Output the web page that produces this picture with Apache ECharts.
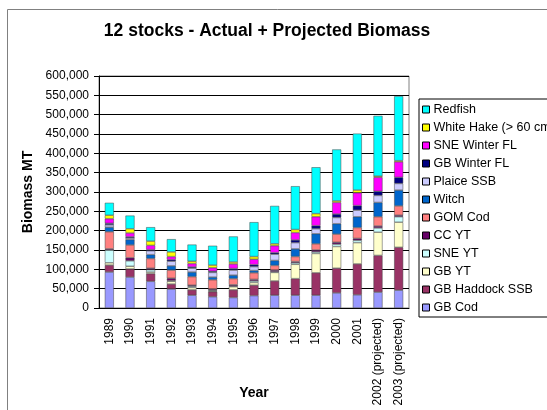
<!DOCTYPE html>
<html>
<head>
<meta charset="utf-8">
<script src="https://cdn.jsdelivr.net/npm/echarts@6/dist/echarts.min.js"></script>
<style>
  html, body { margin: 0; padding: 0; background: #fff; }
  #chart { width: 547px; height: 410px; }
</style>
</head>
<body>
<div id="chart"></div>
<script>
// biomass, thousands of metric tons
const years = ['1989', '1990', '1991', '1992', '1993', '1994', '1995', '1996', '1997', '1998', '1999', '2000', '2001', '2002 (projected)', '2003 (projected)']

const gbCod       = [93, 80, 69, 49, 33, 29, 27, 32, 33, 33, 33, 39, 34, 41, 46]
const gbHaddock   = [18, 21, 20, 13, 14, 13, 20, 27, 37, 43, 58, 64, 80, 95, 111]
const gbYT        = [6, 7, 4, 7, 6, 2, 8, 7, 22, 37, 50, 56, 55, 60, 65]
const sneYT       = [33, 14, 6, 2, 3, 2, 2, 4, 2, 4, 4, 6, 6, 11, 14]
const ccYT        = [3, 8, 4, 6, 3, 3, 3, 4, 4, 3, 5, 5, 5, 5, 4]
const gomCod      = [44, 33, 25, 21, 22, 24, 16, 17, 12, 13, 16, 21, 28, 24, 24]
const witch       = [12, 14, 10, 11, 12, 7, 9, 6, 13, 20, 26, 27, 28, 37, 41]
const plaice      = [6, 4, 10, 12, 10, 12, 13, 10, 16, 16, 13, 16, 17, 18, 17]
const gbWinter    = [4, 3, 3, 4, 3, 3, 4, 5, 4, 7, 8, 9, 12, 11, 16]
const sneWinter   = [12, 10, 11, 8, 9, 9, 12, 14, 18, 19, 23, 30, 33, 36, 40]
const whiteHake   = [9, 11, 11, 12, 6, 7, 5, 7, 5, 8, 8, 4, 7, 3, 3]
const redfish     = [32, 34, 36, 33, 43, 50, 66, 89, 98, 112, 120, 133, 146, 156, 167]

const stocks = [
  ['GB Cod', gbCod, '#9999FF'],
  ['GB Haddock SSB', gbHaddock, '#993366'],
  ['GB YT', gbYT, '#FFFFCC'],
  ['SNE YT', sneYT, '#CCFFFF'],
  ['CC YT', ccYT, '#660066'],
  ['GOM Cod', gomCod, '#FF8080'],
  ['Witch', witch, '#0066CC'],
  ['Plaice SSB', plaice, '#CCCCFF'],
  ['GB Winter FL', gbWinter, '#000080'],
  ['SNE Winter FL', sneWinter, '#FF00FF'],
  ['White Hake (> 60 cm)', whiteHake, '#FFFF00'],
  ['Redfish', redfish, '#00FFFF'],
]

const font = '"Liberation Sans", Arial, sans-serif'
const chart = echarts.init(document.getElementById('chart'))

chart.setOption({
  animation: false,
  textStyle: { fontFamily: font },
  graphic: [
    {
      type: 'rect',
      shape: { x: 7.5, y: 9.5, width: 600, height: 460 },
      style: { fill: 'none', stroke: '#808080', lineWidth: 1 },
      z: -10,
    },
    {
      type: 'text',
      x: 267, y: 31,
      style: {
        text: '12 stocks - Actual + Projected Biomass',
        font: 'bold 17.5px ' + font,
        fill: '#000',
        textAlign: 'center',
        textVerticalAlign: 'middle',
      },
    },
  ],
  grid: {
    left: 99,
    right: 138,
    top: 76,
    bottom: 102,
    outerBoundsMode: 'none',
    containLabel: false,
    show: true,
    borderColor: '#808080',
    borderWidth: 1,
  },
  legend: {
    orient: 'vertical',
    left: 419,
    top: 99,
    data: stocks.map(s => s[0]).reverse(),
    icon: 'rect',
    itemWidth: 7,
    itemHeight: 7,
    itemGap: 5,
    padding: [4, 12, 3, 3],
    borderColor: '#000',
    borderWidth: 1,
    itemStyle: { borderColor: '#000', borderWidth: 1 },
    textStyle: { fontSize: 12.5, color: '#000', fontFamily: font, lineHeight: 13, padding: [0, 0, 0, -1] },
  },
  xAxis: {
    type: 'category',
    data: years,
    name: 'Year',
    nameLocation: 'middle',
    nameGap: 78,
    nameMoveOverlap: false,
    nameTextStyle: { fontSize: 14, fontWeight: 'bold', color: '#000' },
    axisLine: { lineStyle: { color: '#000' } },
    axisTick: { length: 5, lineStyle: { color: '#000' } },
    axisLabel: { rotate: 90, fontSize: 12, color: '#000', margin: 10 },
  },
  yAxis: {
    type: 'value',
    min: 0,
    max: 600,
    interval: 50,
    name: 'Biomass MT',
    nameLocation: 'middle',
    nameGap: 64,
    nameMoveOverlap: false,
    nameTextStyle: { fontSize: 14, fontWeight: 'bold', color: '#000' },
    axisLine: { show: true, lineStyle: { color: '#000' } },
    axisTick: { show: true, length: 5, lineStyle: { color: '#000' } },
    axisLabel: {
      fontSize: 12,
      color: '#000',
      margin: 10,
      formatter: v => (v === 0 ? '0' : v + ',000'),
    },
    splitLine: { lineStyle: { color: '#000', width: 1 } },
  },
  series: stocks.map(([name, values, color]) => ({
    name,
    type: 'bar',
    stack: 'total',
    barWidth: 9,
    data: values,
    itemStyle: { color, borderColor: '#444', borderWidth: 0.5 },
  })),
})
</script>
</body>
</html>
